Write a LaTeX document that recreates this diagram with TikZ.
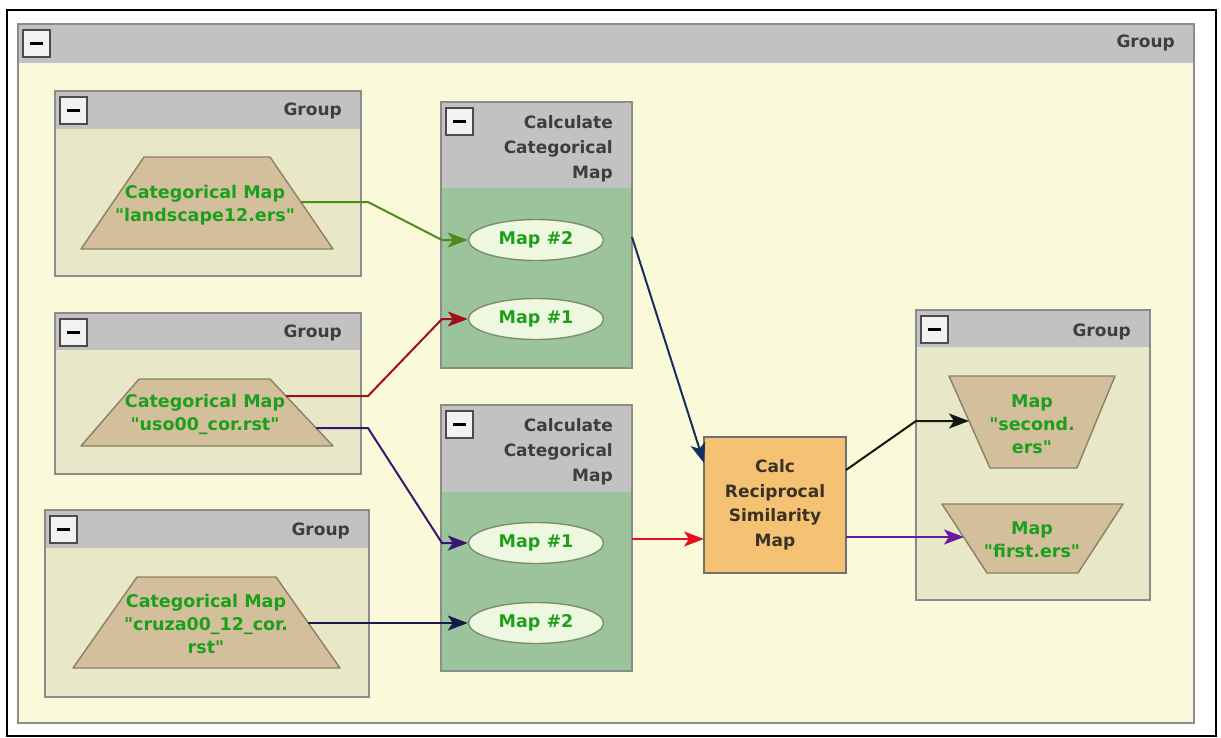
\documentclass[tikz,border=0pt]{standalone}
\usepackage{fontspec}
\setmainfont{DejaVu Sans}[Ligatures=TeXOff]
\usetikzlibrary{arrows.meta,shapes.geometric}

\definecolor{headgray}{HTML}{C2C2C2}
\definecolor{outerbody}{HTML}{FAFADA}
\definecolor{groupbody}{HTML}{E8E8C8}
\definecolor{calcbody}{HTML}{9CC49C}
\definecolor{framegray}{HTML}{8C8C8C}
\definecolor{trapfill}{HTML}{D4BF9C}
\definecolor{trapedge}{HTML}{8A8068}
\definecolor{ellfill}{HTML}{EEF7DF}
\definecolor{elledge}{HTML}{7E8C6C}
\definecolor{maptext}{HTML}{1CA01C}
\definecolor{headtext}{HTML}{3E3E3E}
\definecolor{calcfill}{HTML}{F4C272}
\definecolor{calctext}{HTML}{3A3224}
\definecolor{btnfill}{HTML}{F2F2F2}
\definecolor{cgreen}{HTML}{4E8B1E}
\definecolor{cdarkred}{HTML}{A0101C}
\definecolor{cpurple}{HTML}{3A1670}
\definecolor{cnavy}{HTML}{141A4A}
\definecolor{cnavytwo}{HTML}{16305E}
\definecolor{cred}{HTML}{E8101C}
\definecolor{cblack}{HTML}{101810}
\definecolor{cviolet}{HTML}{6A1A9A}

% container: x1 y1 x2 y2 header-bottom body-colour
\newcommand\container[6]{%
  \fill[#6] (#1,#5) rectangle (#3,#4);
  \fill[headgray] (#1,#2) rectangle (#3,#5);
  \draw[framegray, line width=1.8pt] (#1,#2) rectangle (#3,#4);
  \fill[btnfill] (#1+5,#2+6) rectangle (#1+32,#2+33);
  \draw[black!70, line width=1.3pt] (#1+5,#2+6) rectangle (#1+32,#2+33);
  \draw[black, line width=3.2pt] (#1+12,#2+19.5) -- (#1+25,#2+19.5);
}
% trapezoid outline: x-top-left x-top-right y-top x-bottom-left x-bottom-right y-bottom
\newcommand\trapshape[6]{%
  \draw[trapedge, fill=trapfill, line width=1.4pt, line join=round]
    (#1,#3) -- (#2,#3) -- (#5,#6) -- (#4,#6) -- cycle;
}

\begin{document}
\begin{tikzpicture}[x=1pt, y=-1pt,
  font=\fontsize{17}{20}\selectfont\bfseries,
  headlabel/.style={text=headtext, inner sep=0pt},
  calclabel/.style={text=headtext, inner sep=0pt, align=right,
    font=\fontsize{17}{25}\selectfont\bfseries},
  maplabel/.style={text=maptext, inner sep=0pt, align=center,
    font=\fontsize{17.5}{23}\selectfont\bfseries},
  mapell/.style={ellipse, draw=elledge, fill=ellfill, line width=1.4pt,
    minimum width=135, minimum height=41, inner sep=0pt, text=maptext,
    font=\fontsize{17.5}{20}\selectfont\bfseries},
  calcbox/.style={draw=framegray!80!black, fill=calcfill, line width=1.6pt,
    minimum width=142, minimum height=136, inner sep=0pt, align=center,
    text=calctext, font=\fontsize{17}{24.5}\selectfont\bfseries},
  link/.style={line width=2pt, -{Stealth[length=20pt, width=15pt, inset=5pt]}},
]
\useasboundingbox (0,0) rectangle (1221,737);
\fill[white] (0,0) rectangle (1221,737);

% window frame
\draw[black, line width=2.2pt] (7,10) rectangle (1216,736);

% outer group
\container{18}{24}{1194}{723}{63}{outerbody}
\node[headlabel, anchor=east] (outert) at (1175,43) {Group};

% left-hand groups
\container{55}{91}{361}{276}{129}{groupbody}
\node[headlabel, anchor=east] (g1t) at (342,111) {Group};
\container{55}{313}{361}{474}{350}{groupbody}
\node[headlabel, anchor=east] (g2t) at (342,333) {Group};
\container{45}{510}{369}{697}{548}{groupbody}
\node[headlabel, anchor=east] (g3t) at (350,531) {Group};

% calculate boxes
\container{441}{102}{632}{368}{188}{calcbody}
\node[calclabel, anchor=east] (c1t) at (613,149) {Calculate\\Categorical\\Map};
\container{441}{405}{632}{671}{492}{calcbody}
\node[calclabel, anchor=east] (c2t) at (613,452) {Calculate\\Categorical\\Map};

% output group
\container{916}{310}{1150}{600}{347}{groupbody}
\node[headlabel, anchor=east] (g4t) at (1131,332) {Group};

% input maps
\trapshape{144}{270}{157}{81}{333}{249}
\node[maplabel] (in1) at (205,205) {Categorical Map\\"landscape12.ers"};
\trapshape{139}{270}{379}{81}{333}{446}
\node[maplabel] (in2) at (205,414) {Categorical Map\\"uso00\_cor.rst"};
\trapshape{137}{276}{577}{73}{340}{668}
\node[maplabel] (in3) at (206,624) {Categorical Map\\"cruza00\_12\_cor.\\rst"};

% output maps
\trapshape{949}{1115}{376}{990}{1077}{468}
\node[maplabel] (out2) at (1032,424) {Map\\"second.\\ers"};
\trapshape{942}{1123}{504}{987}{1078}{573}
\node[maplabel] (out1) at (1032,540) {Map\\"first.ers"};

% map ports
\node[mapell] (m2a) at (536,240) {Map \#2};
\node[mapell] (m1a) at (536,319) {Map \#1};
\node[mapell] (m1b) at (536,543) {Map \#1};
\node[mapell] (m2b) at (536,623) {Map \#2};

% similarity step
\node[calcbox] (recip) at (775,505) {Calc\\Reciprocal\\Similarity\\Map};

% connector ends on the slanted map edges and box sides
\coordinate (in1r) at (301,202);
\coordinate (in2ra) at (286,396);
\coordinate (in2rb) at (316,428);
\coordinate (in3r) at (308,623);
\coordinate (c1out) at (632,237);
\coordinate (c2out) at (632,539);
\coordinate (rin1) at (704,463);
\coordinate (rin2) at (704,539);
\coordinate (rout1) at (846,470);
\coordinate (rout2) at (846,537);
\coordinate (out2l) at (969,421);
\coordinate (out1l) at (964,537);

% connectors
\draw[link, cgreen] (in1r) -- (368,202) -- (442,240) -- (m2a.west);
\draw[link, cdarkred] (in2ra) -- (368,396) -- (442,319) -- (m1a.west);
\draw[link, cpurple] (in2rb) -- (368,428) -- (442,543) -- (m1b.west);
\draw[link, cnavy] (in3r) -- (m2b.west);
\draw[link, cnavytwo] (c1out) -- (rin1);
\draw[link, cred] (c2out) -- (rin2);
\draw[link, cblack] (rout1) -- (916,421) -- (out2l);
\draw[link, cviolet] (rout2) -- (out1l);
\end{tikzpicture}
\end{document}
